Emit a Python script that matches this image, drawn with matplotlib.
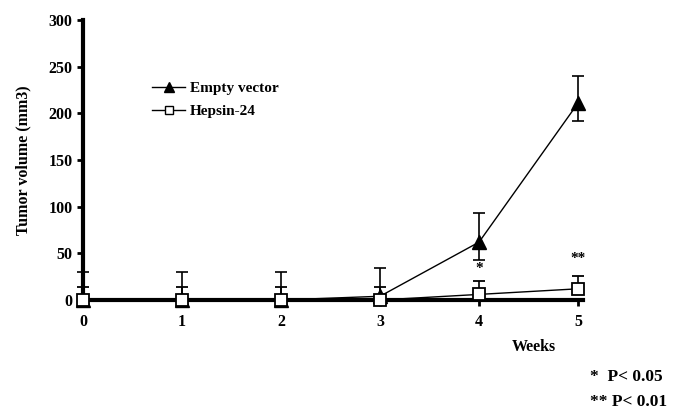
import matplotlib
matplotlib.use("Agg")
from matplotlib import pyplot as plt
from matplotlib.lines import Line2D

plt.rcParams['font.family'] = ['Liberation Serif', 'DejaVu Serif']
plt.rcParams['font.weight'] = 'bold'

weeks = [0, 1, 2, 3, 4, 5]
empty_vec = [0, 0, 0, 4, 62, 211]
empty_up = [30, 30, 30, 30, 31, 29]
empty_down = [0, 0, 0, 0, 19, 19]
hepsin = [0, 0, 0, 0, 6, 12]
hepsin_up = [14, 14, 14, 14, 14, 14]
hepsin_down = [0, 0, 0, 0, 0, 0]
yticks = [0, 50, 100, 150, 200, 250, 300]
stars = ["*", "**"]
star_x = [4, 5]
star_y = [27, 37]

fig = plt.figure(figsize=(6.73, 4.11), dpi=100)
ax = fig.add_axes([83/673, 111/411, 500/673, 280/411])

ax.errorbar(weeks, empty_vec, yerr=[empty_down, empty_up], color='black', lw=1,
            marker='^', ms=10, mfc='black', mec='black', ecolor='black',
            elinewidth=1.2, capsize=4.5, capthick=1.2, clip_on=False, zorder=3)
ax.errorbar(weeks, hepsin, yerr=[hepsin_down, hepsin_up], color='black', lw=1,
            marker='s', ms=9, mfc='white', mec='black', mew=1.3, ecolor='black',
            elinewidth=1.2, capsize=4.5, capthick=1.2, clip_on=False, zorder=4)

for s, xs, ys in zip(stars, star_x, star_y):
    ax.text(xs, ys, s, ha='center', va='bottom', fontsize=11, fontweight='bold')

ax.set_xlim(0, 5.05)
ax.set_ylim(0, 300)
ax.set_xticks(weeks)
ax.set_yticks(yticks)
ax.tick_params(axis='both', labelsize=11.5, width=2, length=4, direction='out')
ax.tick_params(axis='x', pad=6)
for lab in ax.get_xticklabels() + ax.get_yticklabels():
    lab.set_fontweight('bold')

for side in ['top', 'right']:
    ax.spines[side].set_visible(False)
ax.spines['left'].set_linewidth(3)
ax.spines['bottom'].set_linewidth(3)

ax.set_ylabel("Tumor volume (mm3)", fontsize=11.5, fontweight='bold', labelpad=12)
ax.text(4.55, -0.14, "Weeks", transform=ax.get_xaxis_transform(), ha='center',
        va='top', fontsize=11.5, fontweight='bold')

handles = [Line2D([], [], color='black', lw=1, marker='^', ms=7, mfc='black'),
           Line2D([], [], color='black', lw=1, marker='s', ms=6, mfc='white', mew=1)]
ax.legend(handles, ["Empty vector", "Hepsin-24"], loc='upper left',
          bbox_to_anchor=(0.11, 0.83), frameon=False, fontsize=11,
          handlelength=2.2, handletextpad=0.3, labelspacing=0.6)

fig.text(590/673, 1 - 377/411, "*  P< 0.05", ha='left', va='center', fontsize=12.5, fontweight='bold')
fig.text(590/673, 1 - 402/411, "** P< 0.01", ha='left', va='center', fontsize=12.5, fontweight='bold')

fig.savefig("out.png", dpi=100)
